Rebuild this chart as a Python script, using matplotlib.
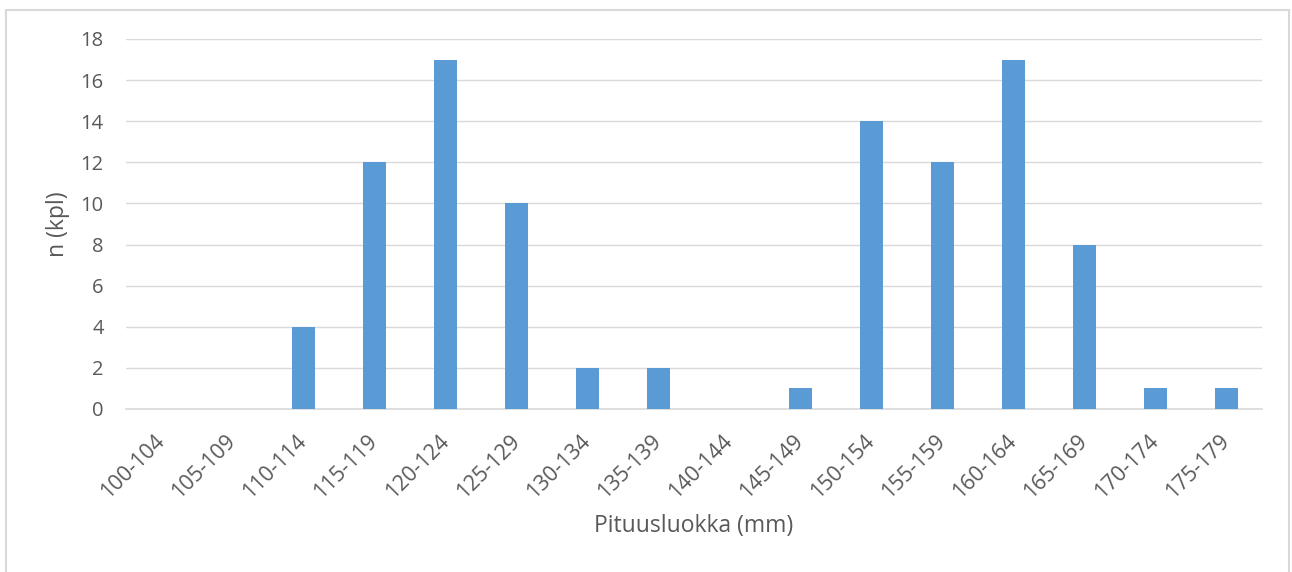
import numpy as np
import matplotlib.pyplot as plt
from matplotlib.patches import Rectangle

classes = ['100-104', '105-109', '110-114', '115-119', '120-124', '125-129',
           '130-134', '135-139', '140-144', '145-149', '150-154', '155-159',
           '160-164', '165-169', '170-174', '175-179']
counts = [0, 0, 4, 12, 17, 10, 2, 2, 0, 1, 14, 12, 17, 8, 1, 1]
yticks = [0, 2, 4, 6, 8, 10, 12, 14, 16, 18]

text_color = '#595959'
grid_color = '#D9D9D9'
bar_color = '#5B9BD5'

plt.rcParams['font.family'] = ['Open Sans', 'DejaVu Sans']

W, H = 1292, 572
fig = plt.figure(figsize=(W / 100, H / 100), dpi=100)
ax = fig.add_axes([126 / W, 1 - 409 / H, 1136 / W, 370 / H])

x = np.arange(len(classes))
ax.bar(x, counts, width=0.31, color=bar_color, zorder=3)

ax.set_xlim(-0.5, len(classes) - 0.5)
ax.set_ylim(0, 18)
ax.set_yticks(yticks)
ax.set_xticks(x)
ax.tick_params(length=0, colors=text_color)
ax.tick_params(axis='y', pad=16, labelsize=14.5)
ax.tick_params(axis='x', pad=21, labelsize=15.5)
ax.set_xticklabels(classes, rotation=45, ha='right', va='center',
                   rotation_mode='anchor')
ax.grid(axis='y', color=grid_color, linewidth=1, zorder=0)
for s in ['top', 'right', 'left']:
    ax.spines[s].set_visible(False)
ax.spines['bottom'].set_color(grid_color)
ax.spines['bottom'].set_linewidth(1.2)

fig.text(58 / W, 1 - 224 / H, 'n (kpl)', rotation=90, ha='center', va='center',
         color=text_color, fontsize=16.5)
fig.text(694 / W, 1 - 526 / H, 'Pituusluokka (mm)', ha='center', va='center',
         color=text_color, fontsize=16.5)

# outer chart frame
fig.patches.append(Rectangle((6 / W, -0.01), 1283 / W, 1 - 10 / H + 0.01,
                             transform=fig.transFigure, fill=False,
                             edgecolor=grid_color, linewidth=1.5))

fig.savefig('out.png', dpi=100)
